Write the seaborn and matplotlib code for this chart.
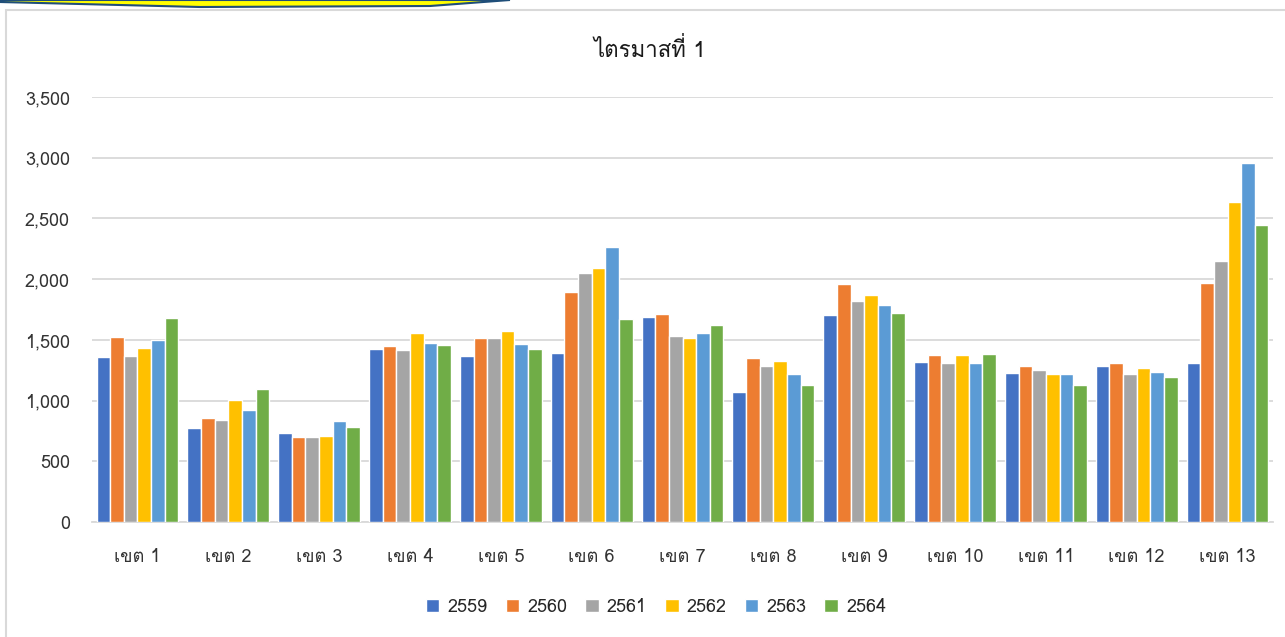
import pandas as pd
import seaborn as sns
import matplotlib.pyplot as plt
from matplotlib import font_manager
from matplotlib.ft2font import FT2Font
from matplotlib.patches import Polygon, Rectangle

# Data
zones = ['เขต 1', 'เขต 2', 'เขต 3', 'เขต 4', 'เขต 5', 'เขต 6', 'เขต 7',
         'เขต 8', 'เขต 9', 'เขต 10', 'เขต 11', 'เขต 12', 'เขต 13']
years = ['2559', '2560', '2561', '2562', '2563', '2564']
y2559 = [1359, 776, 729, 1423, 1368, 1395, 1690, 1070, 1701, 1321, 1227, 1285, 1313]
y2560 = [1524, 859, 702, 1450, 1516, 1896, 1709, 1348, 1959, 1376, 1285, 1313, 1970]
y2561 = [1368, 839, 702, 1414, 1516, 2053, 1533, 1285, 1822, 1313, 1249, 1219, 2152]
y2562 = [1434, 1007, 710, 1560, 1571, 2089, 1516, 1329, 1866, 1376, 1219, 1266, 2633]
y2563 = [1500, 925, 831, 1478, 1469, 2265, 1560, 1219, 1791, 1313, 1219, 1238, 2958]
y2564 = [1681, 1098, 784, 1458, 1423, 1673, 1626, 1128, 1720, 1387, 1128, 1192, 2449]
title = 'ไตรมาสที่ 1'
yticks = [0, 500, 1000, 1500, 2000, 2500, 3000, 3500]

colors = ['#4472C4', '#ED7D31', '#A5A5A5', '#FFC000', '#5B9BD5', '#70AD47']

df = pd.DataFrame({'zone': zones, '2559': y2559, '2560': y2560, '2561': y2561,
                   '2562': y2562, '2563': y2563, '2564': y2564})
df = df.melt(id_vars='zone', var_name='year', value_name='value')


# find an installed font that has Thai glyphs
def has_thai(path):
    try:
        return FT2Font(path).get_char_index(0x0E15) != 0
    except Exception:
        return False


thai = [f.name for f in font_manager.fontManager.ttflist if has_thai(f.fname)]
sns.set_style('white')
plt.rcParams['font.family'] = ([thai[0]] if thai else []) + ['DejaVu Sans']

fig = plt.figure(figsize=(12.85, 6.37), dpi=100)
ax = fig.add_axes([92 / 1285, 1 - 522 / 637, 1181 / 1285, 425 / 637])

sns.barplot(data=df, x='zone', y='value', hue='year', hue_order=years,
            palette=colors, width=0.9, edgecolor='white', linewidth=1,
            saturation=1, ax=ax, zorder=3)

ax.set_ylim(0, 3500)
ax.set_xlim(-0.5, len(zones) - 0.5)
ax.set_yticks(yticks)
ax.set_yticklabels([f'{v:,}' for v in yticks])
ax.yaxis.grid(True, color='#D9D9D9', linewidth=1.3, zorder=0)
ax.set_axisbelow(True)
for s in ['top', 'right', 'left']:
    ax.spines[s].set_visible(False)
ax.spines['bottom'].set_color('#D9D9D9')
ax.spines['bottom'].set_linewidth(1.3)
ax.tick_params(axis='both', length=0, labelsize=13, labelcolor='#333333')
ax.tick_params(axis='y', pad=16)
ax.tick_params(axis='x', pad=19)
ax.set_xlabel('')
ax.set_ylabel('')

fig.text(650 / 1285, 1 - 50 / 637, title, ha='center', va='center',
         fontsize=16, color='#1a1a1a')

ax.legend(loc='center', bbox_to_anchor=(656 / 1285, 1 - 607 / 637),
          bbox_transform=fig.transFigure, ncol=6, frameon=False,
          fontsize=13, handlelength=0.75, handleheight=0.75,
          columnspacing=1.0, handletextpad=0.45)

# chart frame and the banner above it
fig.patches.append(Rectangle((6 / 1285, -0.1), 1.2, 1 - 10 / 637 + 0.1,
                             transform=fig.transFigure, fill=False,
                             edgecolor='#D9D9D9', linewidth=1.5))
pts = [(0, 0), (0, 2), (200, 7), (430, 6), (510, 0)]
fig.patches.append(Polygon([(x / 1285, 1 - y / 637) for x, y in pts],
                           closed=True, transform=fig.transFigure,
                           facecolor='#FFFF00', edgecolor='#1F4E79', linewidth=1.5))

fig.savefig('out.png', dpi=100)
